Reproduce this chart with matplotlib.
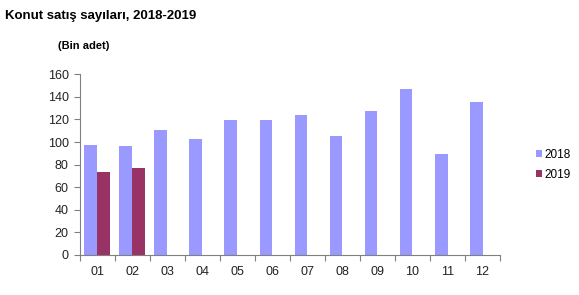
import numpy as np
import matplotlib.pyplot as plt

plt.rcParams['font.family'] = ['Liberation Sans', 'DejaVu Sans']

months = ['01', '02', '03', '04', '05', '06', '07', '08', '09', '10', '11', '12']
sales_2018 = [97.5, 96.1, 110.6, 103.1, 119.6, 119.1, 123.7, 105.0, 127.3, 146.8, 89.3, 135.9]
sales_2019 = [73.4, 77.4]

fig = plt.figure(figsize=(5.79, 2.95), dpi=100)
ax = fig.add_axes([0.138, 0.1356, 0.7256, 0.6125])

x = np.arange(len(months)) + 0.5
w = 0.37
ax.bar(x[:len(sales_2018)] - w / 2, sales_2018, width=w, color='#9999FF', label='2018')
ax.bar(x[:len(sales_2019)] + w / 2, sales_2019, width=w, color='#993366', label='2019')

ax.set_xlim(0, 12)
ax.set_ylim(0, 160)
ax.set_yticks(range(0, 161, 20))
ax.set_xticks(range(0, 13))
ax.set_xticklabels([])
ax.set_xticks(x, minor=True)
ax.set_xticklabels(months, minor=True)
ax.tick_params(axis='x', which='minor', length=0, pad=8)
ax.tick_params(axis='x', which='major', length=4, color='#808080')
ax.tick_params(axis='y', length=4, color='#808080', pad=4)
ax.tick_params(which='both', labelsize=9, labelcolor='#222222')
for s in ['top', 'right']:
    ax.spines[s].set_visible(False)
for s in ['left', 'bottom']:
    ax.spines[s].set_color('#808080')

ax.legend(loc='center left', bbox_to_anchor=(1.06, 0.5), frameon=False, fontsize=8.5,
          handlelength=0.5, handleheight=0.5, handletextpad=0.2, labelspacing=0.7)

fig.text(0.008, 0.945, 'Konut satış sayıları, 2018-2019', fontsize=9.5, fontweight='bold', va='center')
fig.text(0.10, 0.845, '(Bin adet)', fontsize=8, fontweight='bold', va='center')

fig.savefig('out.png', dpi=100)
